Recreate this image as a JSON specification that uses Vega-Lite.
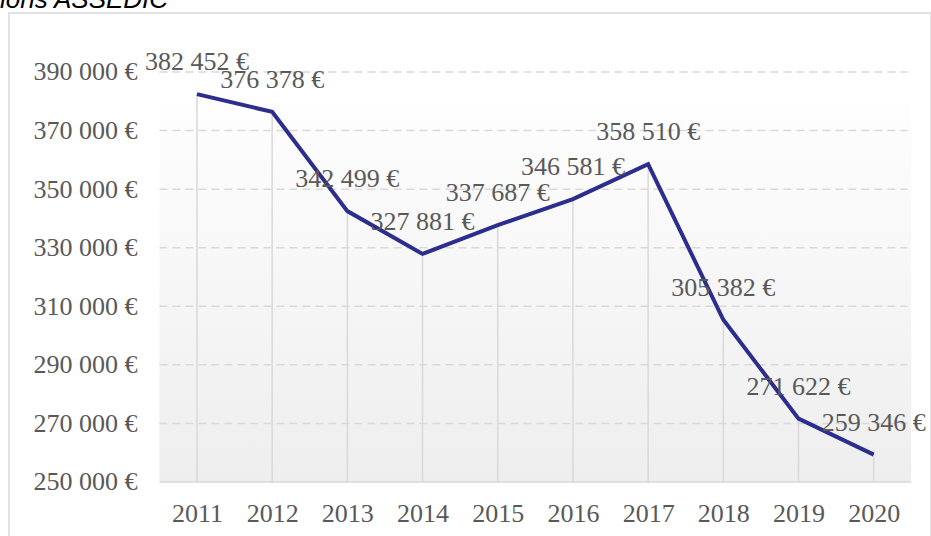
{
  "$schema": "https://vega.github.io/schema/vega-lite/v6.json",
  "autosize": "none",
  "padding": {"left": 9, "top": 13, "right": 0, "bottom": 0},
  "width": 922,
  "height": 527,
  "background": "white",
  "title": {"text": "ions ASSEDIC", "anchor": "start", "frame": "group", "orient": "top", "font": "Liberation Sans", "fontStyle": "italic", "fontWeight": "normal", "fontSize": 26, "color": "#000000", "offset": 0, "baseline": "alphabetic", "dx": -9, "dy": 21},
  "data": {"values": [
    {"year": 2011, "value": 382452},
    {"year": 2012, "value": 376378},
    {"year": 2013, "value": 342499},
    {"year": 2014, "value": 327881},
    {"year": 2015, "value": 337687},
    {"year": 2016, "value": 346581},
    {"year": 2017, "value": 358510},
    {"year": 2018, "value": 305382},
    {"year": 2019, "value": 271622},
    {"year": 2020, "value": 259346}
  ]},
  "layer": [
    {
      "data": {"values": [{"k": 1}]},
      "mark": {"type": "rect", "color": {"gradient": "linear", "x1": 0, "y1": 0, "x2": 0, "y2": 1, "stops": [{"offset": 0, "color": "#fefefe"}, {"offset": 1, "color": "#eeeeee"}]}},
      "encoding": {
        "x": {"datum": 2010.5, "type": "quantitative", "scale": {"domain": [2008.5, 2020.762], "nice": false, "zero": false}, "axis": {"orient": "bottom", "offset": -58, "values": [2011, 2012, 2013, 2014, 2015, 2016, 2017, 2018, 2019, 2020], "format": "d", "domain": false, "ticks": false, "grid": false, "labelPadding": 18, "labelFont": "Liberation Serif", "labelFontSize": 26, "labelColor": "#595959", "title": null}},
        "x2": {"datum": 2020.5},
        "y": {"datum": 250000, "type": "quantitative", "scale": {"domain": [230195, 410145], "nice": false, "zero": false}, "axis": {"orient": "left", "offset": -151, "values": [250000, 270000, 290000, 310000, 330000, 350000, 370000, 390000], "format": "$,.0f", "domain": false, "ticks": false, "grid": false, "labelPadding": 23, "labelFont": "Liberation Serif", "labelFontSize": 26, "labelColor": "#595959", "title": null}},
        "y2": {"datum": 380000}
      }
    },
    {
      "data": {"values": [{"g": 270000}, {"g": 290000}, {"g": 310000}, {"g": 330000}, {"g": 350000}, {"g": 370000}, {"g": 390000}]},
      "mark": {"type": "rule", "color": "#d9d9d9", "strokeWidth": 1.5, "strokeDash": [8, 5]},
      "encoding": {
        "y": {"field": "g", "type": "quantitative"},
        "x": {"datum": 2010.5, "type": "quantitative"},
        "x2": {"datum": 2020.45}
      }
    },
    {
      "data": {"values": [{"k": 1}]},
      "mark": {"type": "rule", "color": "#d9d9d9", "strokeWidth": 1.5},
      "encoding": {
        "y": {"datum": 250000, "type": "quantitative"},
        "x": {"datum": 2010.5, "type": "quantitative"},
        "x2": {"datum": 2020.5}
      }
    },
    {
      "mark": {"type": "rule", "color": "#d9d9d9", "strokeWidth": 1.5},
      "encoding": {
        "x": {"field": "year", "type": "quantitative"},
        "y": {"field": "value", "type": "quantitative"},
        "y2": {"datum": 250000}
      }
    },
    {
      "mark": {"type": "line", "color": "#2c2d8c", "strokeWidth": 4, "strokeJoin": "miter"},
      "encoding": {
        "x": {"field": "year", "type": "quantitative"},
        "y": {"field": "value", "type": "quantitative"}
      }
    },
    {
      "mark": {"type": "text", "font": "Liberation Serif", "fontSize": 26, "color": "#595959", "dy": -32, "baseline": "middle", "align": "center"},
      "encoding": {
        "x": {"field": "year", "type": "quantitative"},
        "y": {"field": "value", "type": "quantitative"},
        "text": {"field": "value", "type": "quantitative", "format": "$,.0f"}
      }
    }
  ],
  "config": {
    "view": {"stroke": "#d9d9d9", "strokeWidth": 1.5},
    "locale": {"number": {"decimal": ",", "thousands": " ", "grouping": [3], "currency": ["", " €"]}}
  }
}
